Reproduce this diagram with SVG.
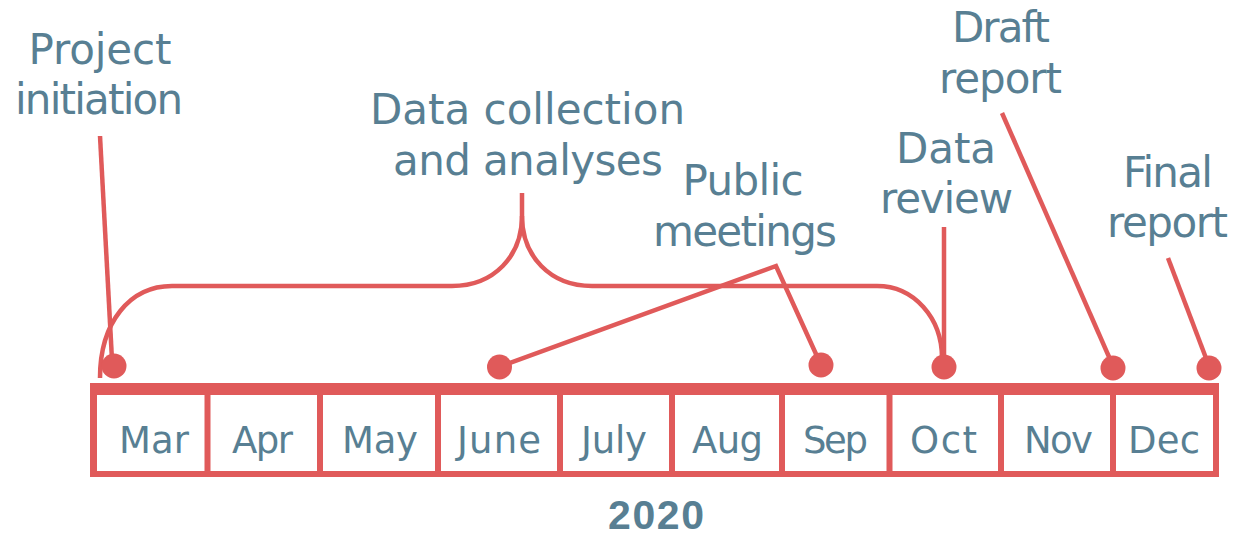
<svg xmlns="http://www.w3.org/2000/svg" width="1236" height="536" viewBox="0 0 1236 536">
  <style>
    .lbl { font-family: "DejaVu Sans", "Liberation Sans", sans-serif; font-size: 42px; fill: #587f93; text-anchor: middle; }
    .mon { font-family: "DejaVu Sans", "Liberation Sans", sans-serif; font-size: 37px; fill: #587f93; text-anchor: middle; }
    .yr { font-family: "Liberation Sans", "DejaVu Sans", sans-serif; font-size: 41px; font-weight: bold; fill: #587f93; text-anchor: middle; }
    .bar { fill: #e05a5a; }
    .ln { fill: none; stroke: #e05a5a; stroke-width: 4.5; stroke-linecap: butt; }
    .dot { fill: #e05a5a; }
  </style>
  <rect width="1236" height="536" fill="#ffffff"/>

  <g id="connectors">
    <path class="ln" d="M100,136 L112,360"/>
    <path class="ln" d="M100,378 C100,322 130,286 172,286 L452,286 C494,286 522,256 522,216 L522,193"/>
    <path class="ln" d="M522,216 C522,256 550,286 592,286 L877,286 C914,286 942,318 942,358"/>
    <path class="ln" d="M499,367 L776,266 L821,365"/>
    <path class="ln" d="M944,227 L944,360"/>
    <path class="ln" d="M1002,113 L1113,366"/>
    <path class="ln" d="M1168,258 L1209,366"/>
  </g>

  <g id="milestones">
    <circle class="dot" cx="114" cy="366" r="12.5"/>
    <circle class="dot" cx="499.5" cy="367" r="12.5"/>
    <circle class="dot" cx="821" cy="365" r="12.5"/>
    <circle class="dot" cx="944" cy="367" r="12.5"/>
    <circle class="dot" cx="1113" cy="368" r="12.5"/>
    <circle class="dot" cx="1209" cy="368" r="12.5"/>
  </g>

  <g id="timeline">
    <rect class="bar" x="90" y="383" width="1129" height="12"/>
    <rect class="bar" x="90" y="471" width="1129" height="6"/>
    <rect class="bar" x="90" y="383" width="7" height="94"/>
    <rect class="bar" x="1213" y="383" width="6" height="94"/>
    <rect class="bar" x="204.5" y="383" width="6" height="94"/>
    <rect class="bar" x="317" y="383" width="6" height="94"/>
    <rect class="bar" x="435" y="383" width="6" height="94"/>
    <rect class="bar" x="557" y="383" width="6" height="94"/>
    <rect class="bar" x="669" y="383" width="6" height="94"/>
    <rect class="bar" x="779" y="383" width="6" height="94"/>
    <rect class="bar" x="886.5" y="383" width="6" height="94"/>
    <rect class="bar" x="998" y="383" width="6" height="94"/>
    <rect class="bar" x="1110" y="383" width="6" height="94"/>
  </g>

  <g id="month-mar"><text class="mon" x="154" y="453" textLength="70" lengthAdjust="spacing">Mar</text></g>
  <g id="month-apr"><text class="mon" x="262.5" y="453" textLength="61" lengthAdjust="spacing">Apr</text></g>
  <g id="month-may"><text class="mon" x="380" y="453" textLength="76" lengthAdjust="spacing">May</text></g>
  <g id="month-june"><text class="mon" x="499" y="453" textLength="84" lengthAdjust="spacing">June</text></g>
  <g id="month-july"><text class="mon" x="614" y="453" textLength="66" lengthAdjust="spacing">July</text></g>
  <g id="month-aug"><text class="mon" x="727.5" y="453" textLength="71" lengthAdjust="spacing">Aug</text></g>
  <g id="month-sep"><text class="mon" x="835.5" y="453" textLength="65" lengthAdjust="spacing">Sep</text></g>
  <g id="month-oct"><text class="mon" x="943.5" y="453" textLength="67" lengthAdjust="spacing">Oct</text></g>
  <g id="month-nov"><text class="mon" x="1058.5" y="453" textLength="69" lengthAdjust="spacing">Nov</text></g>
  <g id="month-dec"><text class="mon" x="1164" y="453" textLength="72" lengthAdjust="spacing">Dec</text></g>

  <g id="year"><text class="yr" x="656" y="529" textLength="96" lengthAdjust="spacing">2020</text></g>

  <g id="label-project-initiation">
    <text class="lbl" x="100" y="64" textLength="143" lengthAdjust="spacing">Project</text>
    <text class="lbl" x="99" y="114" textLength="168" lengthAdjust="spacing">initiation</text>
  </g>
  <g id="label-data-collection">
    <text class="lbl" x="527.5" y="124" textLength="315" lengthAdjust="spacing">Data collection</text>
    <text class="lbl" x="528" y="175" textLength="270" lengthAdjust="spacing">and analyses</text>
  </g>
  <g id="label-public-meetings">
    <text class="lbl" x="743" y="195" textLength="121" lengthAdjust="spacing">Public</text>
    <text class="lbl" x="745" y="246" textLength="184" lengthAdjust="spacing">meetings</text>
  </g>
  <g id="label-data-review">
    <text class="lbl" x="946" y="163" textLength="100" lengthAdjust="spacing">Data</text>
    <text class="lbl" x="946.5" y="213" textLength="133" lengthAdjust="spacing">review</text>
  </g>
  <g id="label-draft-report">
    <text class="lbl" x="1001" y="42" textLength="98" lengthAdjust="spacing">Draft</text>
    <text class="lbl" x="1000.5" y="93" textLength="123" lengthAdjust="spacing">report</text>
  </g>
  <g id="label-final-report">
    <text class="lbl" x="1168" y="187" textLength="90" lengthAdjust="spacing">Final</text>
    <text class="lbl" x="1167.5" y="237" textLength="121" lengthAdjust="spacing">report</text>
  </g>
</svg>
